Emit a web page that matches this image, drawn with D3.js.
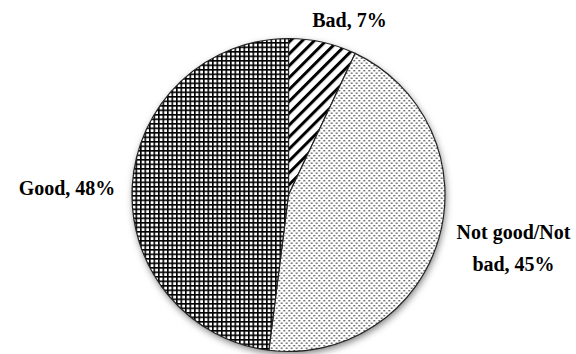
<!DOCTYPE html>
<html>
<head>
<meta charset="utf-8">
<script src="https://cdn.jsdelivr.net/npm/d3@7/dist/d3.min.js"></script>
<style>
  html, body { margin: 0; padding: 0; background: #fff; }
  svg { display: block; }
  text { font-family: "Liberation Serif", "Times New Roman", serif; font-weight: bold; font-size: 20px; fill: #000; }
</style>
</head>
<body>
<svg id="chart" width="576" height="354"></svg>
<script>
// Ratings of the service, share of respondents
const categories = ["Bad", "Not good/Not bad", "Good"];
const shares = [7, 45, 48];
const patternIds = ["hatch", "dots", "grid"];
// Label lines per slice (the middle one wraps onto two lines)
const labelLines = [["Bad, 7%"], ["Not good/Not", "bad, 45%"], ["Good, 48%"]];

const width = 576, height = 354;
const cx = 288.5, cy = 195, radius = 156.5;

const svg = d3.select("#chart");
const defs = svg.append("defs");

// Soft shadow around the pie
const shadow = defs.append("filter").attr("id", "shadow")
  .attr("x", "-20%").attr("y", "-20%").attr("width", "140%").attr("height", "140%");
shadow.append("feDropShadow")
  .attr("dx", 1).attr("dy", 3).attr("stdDeviation", 3.5)
  .attr("flood-color", "#000").attr("flood-opacity", 0.5);

// Diagonal hatching
const hw = 8.4;
const hatch = defs.append("pattern").attr("id", "hatch")
  .attr("patternUnits", "userSpaceOnUse").attr("width", hw).attr("height", hw)
  .attr("patternTransform", "rotate(45)");
hatch.append("rect").attr("width", hw).attr("height", hw).attr("fill", "#fff");
hatch.append("rect").attr("x", 0).attr("y", 0).attr("width", 3).attr("height", hw).attr("fill", "#000");

// Dotted fill
const dots = defs.append("pattern").attr("id", "dots")
  .attr("patternUnits", "userSpaceOnUse").attr("width", 5).attr("height", 5);
dots.append("rect").attr("width", 5).attr("height", 5).attr("fill", "#fff");
dots.append("rect").attr("x", 0).attr("y", 0).attr("width", 1.4).attr("height", 1.4).attr("fill", "#333");
dots.append("rect").attr("x", 2.5).attr("y", 2.5).attr("width", 1.4).attr("height", 1.4).attr("fill", "#333");

// Square grid
const g = 4.5;
const grid = defs.append("pattern").attr("id", "grid")
  .attr("patternUnits", "userSpaceOnUse").attr("width", g).attr("height", g);
grid.append("rect").attr("width", g).attr("height", g).attr("fill", "#fff");
grid.append("rect").attr("x", 0).attr("y", 0).attr("width", 1.6).attr("height", g).attr("fill", "#000");
grid.append("rect").attr("x", 0).attr("y", 0).attr("width", g).attr("height", 1.6).attr("fill", "#000");

const pie = d3.pie().sort(null).value(d => d.value).startAngle(0).endAngle(2 * Math.PI);
const data = categories.map((c, i) => ({ name: c, value: shares[i], pattern: patternIds[i], lines: labelLines[i] }));
const arcs = pie(data);
const arc = d3.arc().innerRadius(0).outerRadius(radius);

const plot = svg.append("g").attr("transform", `translate(${cx},${cy})`);

// Shadowed backing disc
plot.append("circle").attr("r", radius).attr("fill", "#fff").attr("filter", "url(#shadow)");

plot.selectAll("path.slice")
  .data(arcs)
  .join("path")
  .attr("class", "slice")
  .attr("d", arc)
  .attr("fill", d => `url(#${d.data.pattern})`)
  .attr("stroke", "#222")
  .attr("stroke-width", 1.2)
  .attr("stroke-linejoin", "round");

// Labels placed outside the pie
const labelPos = {
  "Bad": { x: 349.5, y: 27, anchor: "middle" },
  "Not good/Not bad": { x: 513.5, y: 239, anchor: "middle" },
  "Good": { x: 67, y: 195, anchor: "middle" }
};
const lineGap = 32;

arcs.forEach(d => {
  const p = labelPos[d.data.name];
  const t = svg.append("text")
    .attr("x", p.x).attr("y", p.y)
    .attr("text-anchor", p.anchor);
  d.data.lines.forEach((ln, i) => {
    t.append("tspan").attr("x", p.x).attr("y", p.y + i * lineGap).text(ln);
  });
});
</script>
</body>
</html>
